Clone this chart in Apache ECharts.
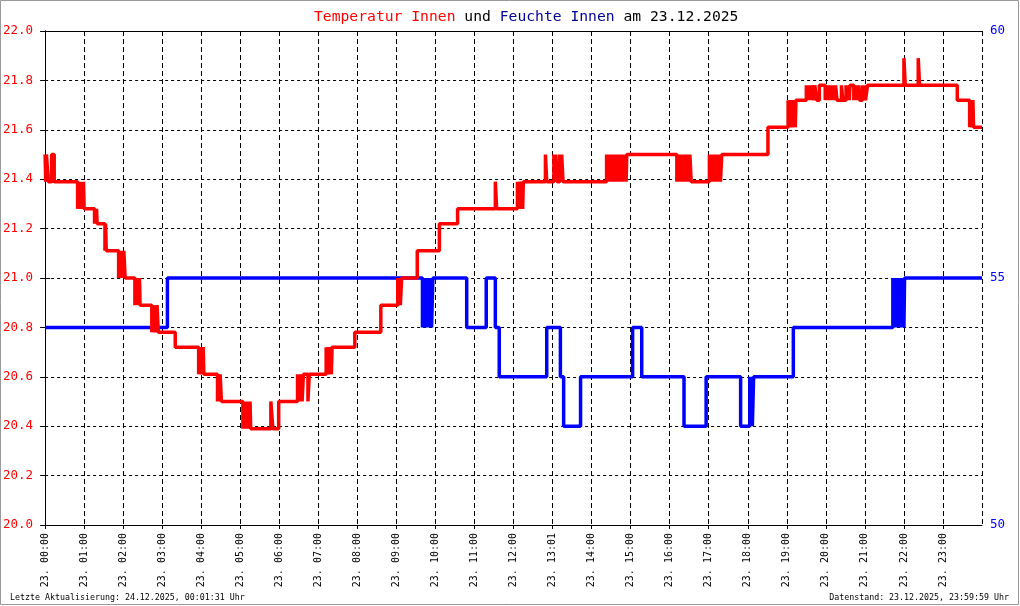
<!DOCTYPE html>
<html>
<head>
<meta charset="utf-8">
<script src="https://cdn.jsdelivr.net/npm/echarts@6/dist/echarts.min.js"></script>
<style>
html,body{margin:0;padding:0;background:#fff;}
#chart{width:1020px;height:606px;}
</style>
</head>
<body>
<div id="chart"></div>
<script>
// time in minutes since 23.12.2025 00:00, value holds until next point
var hourLabels = ['23. 00:00','23. 01:00','23. 02:00','23. 03:00','23. 04:00','23. 05:00','23. 06:00','23. 07:00',
  '23. 08:00','23. 09:00','23. 10:00','23. 11:00','23. 12:00','23. 13:01','23. 14:00','23. 15:00',
  '23. 16:00','23. 17:00','23. 18:00','23. 19:00','23. 20:00','23. 21:00','23. 22:00','23. 23:00'];

var temperature = [
  [0,21.5],[1,21.39],[2,21.5],[5,21.39],[10,21.5],[14,21.39],
  [50,21.28],[51,21.39],[52,21.28],[53,21.39],[54,21.28],[55,21.39],[56,21.28],[57,21.39],[58,21.28],[59,21.39],[60,21.28],
  [76,21.22],[77,21.28],[78,21.22],[79,21.28],[80,21.22],
  [92,21.11],[93,21.22],[94,21.11],
  [113,21.0],[114,21.11],[116,21.0],[117,21.11],[119,21.0],[121,21.11],[123,21.0],
  [138,20.89],[139,21.0],[140,20.89],[142,21.0],[143,20.89],[145,21.0],[146,20.89],
  [164,20.78],[165,20.89],[167,20.78],[168,20.89],[170,20.78],[172,20.89],[174,20.78],
  [200,20.72],
  [236,20.61],[237,20.72],[239,20.61],[240,20.72],[242,20.61],[243,20.72],[244,20.61],
  [265,20.5],[266,20.61],[268,20.5],[269,20.61],[271,20.5],
  [304,20.39],[305,20.5],[307,20.39],[308,20.5],[310,20.39],[312,20.5],[313,20.39],[315,20.5],[316,20.39],
  [347,20.5],[350,20.39],[359,20.5],
  [388,20.61],[389,20.5],[391,20.61],[392,20.5],[394,20.61],[395,20.5],[397,20.61],
  [404,20.5],[406,20.61],
  [432,20.72],[433,20.61],[435,20.72],[436,20.61],[438,20.72],[440,20.61],[441,20.72],
  [476,20.78],
  [516,20.89],
  [542,21.0],[543,20.89],[545,21.0],[546,20.89],[548,21.0],
  [572,21.11],
  [606,21.22],
  [634,21.28],
  [692,21.39],[694,21.28],
  [726,21.39],[727,21.28],[729,21.39],[730,21.28],[732,21.39],[734,21.28],[735,21.39],
  [769,21.5],[771,21.39],[782,21.5],[784,21.39],[785,21.5],[787,21.39],[791,21.5],[793,21.39],[794,21.5],[796,21.39],
  [863,21.5],[864,21.39],[866,21.5],[867,21.39],[869,21.5],[871,21.39],[872,21.5],[874,21.39],[876,21.5],[877,21.39],
  [879,21.5],[880,21.39],[882,21.5],[884,21.39],[885,21.5],[887,21.39],[888,21.5],[890,21.39],[891,21.5],[893,21.39],[894,21.5],
  [971,21.39],[972,21.5],[974,21.39],[975,21.5],[977,21.39],[978,21.5],[980,21.39],[982,21.5],[983,21.39],[985,21.5],
  [986,21.39],[988,21.5],[990,21.39],[991,21.5],[993,21.39],
  [1021,21.5],[1022,21.39],[1024,21.5],[1025,21.39],[1027,21.5],[1029,21.39],[1030,21.5],[1032,21.39],[1034,21.5],
  [1035,21.39],[1037,21.5],[1038,21.39],[1040,21.5],
  [1111,21.61],
  [1142,21.72],[1143,21.61],[1145,21.72],[1146,21.61],[1148,21.72],[1150,21.61],[1151,21.72],[1153,21.61],[1154,21.72],
  [1170,21.78],[1171,21.72],[1172,21.78],[1174,21.72],[1175,21.78],[1177,21.72],[1179,21.78],
  [1182,21.72],[1183,21.78],
  [1186,21.72],[1190,21.78],
  [1199,21.72],[1200,21.78],[1202,21.72],[1203,21.78],[1205,21.72],[1206,21.78],[1208,21.72],[1209,21.78],[1211,21.72],
  [1212,21.78],[1214,21.72],[1215,21.78],[1217,21.72],
  [1224,21.78],[1226,21.72],
  [1231,21.78],[1233,21.72],[1234,21.78],[1236,21.72],[1237,21.78],
  [1243,21.72],[1244,21.78],[1246,21.72],[1247,21.78],[1249,21.72],[1250,21.78],[1252,21.72],
  [1256,21.78],[1257,21.72],[1259,21.78],[1261,21.72],[1264,21.78],
  [1320,21.89],[1322,21.78],[1342,21.89],[1344,21.78],
  [1402,21.72],
  [1421,21.61],[1422,21.72],[1424,21.61],[1426,21.72],[1427,21.61],
  [1440,21.61]
];

var humidity = [
  [0,54],[188,55],
  [580,54],[581,55],[582,54],[584,55],[585,54],[587,55],[588,54],[590,55],[591,54],[593,55],[594,54],[596,55],
  [648,54],[678,55],[692,54],[698,53],
  [771,54],[792,53],[797,52],[823,53],
  [903,54],[917,53],
  [982,52],[1016,53],
  [1069,52],[1083,53],[1084,52],[1086,53],[1087,52],[1089,53],
  [1150,54],
  [1303,55],[1304,54],[1306,55],[1307,54],[1309,55],[1310,54],[1312,55],[1314,54],[1315,55],[1317,54],[1318,55],[1320,54],[1321,55],
  [1440,55]
];

var mono = '"DejaVu Sans Mono", "Liberation Mono", monospace';
var chart = echarts.init(document.getElementById('chart'), null, {renderer:'canvas'});
chart.setOption({
  animation:false,
  backgroundColor:'#ffffff',
  title:{
    left:309, top:5,
    text:'{r|Temperatur Innen} {k|und} {b|Feuchte Innen} {k|am 23.12.2025}',
    textStyle:{
      fontFamily:mono, fontSize:14.7, fontWeight:'normal', color:'#000',
      rich:{
        r:{color:'#ff0000', fontFamily:mono, fontSize:14.7},
        b:{color:'#000099', fontFamily:mono, fontSize:14.7},
        k:{color:'#000000', fontFamily:mono, fontSize:14.7}
      }
    }
  },
  grid:{left:43, right:38, top:31, bottom:81, containLabel:false},
  xAxis:[{
    type:'value', min:0, max:1440, interval:60,
    axisLine:{show:true, onZero:false, lineStyle:{color:'#000', width:1}},
    axisTick:{show:true, length:4, lineStyle:{color:'#000'}},
    axisLabel:{
      rotate:90, margin:8, color:'#000', fontFamily:mono, fontSize:10,
      showMaxLabel:false,
      formatter:function(v){ var i = Math.round(v/60); return hourLabels[i] || ''; }
    },
    splitLine:{show:true, lineStyle:{color:'#000', width:1, type:[5,3]}}
  },{
    type:'value', min:0, max:1440, position:'top',
    axisLine:{show:true, lineStyle:{color:'#000', width:1}},
    axisTick:{show:false}, axisLabel:{show:false}, splitLine:{show:false}
  }],
  yAxis:[{
    type:'value', min:20, max:22, interval:0.2, position:'left',
    axisLine:{show:true, lineStyle:{color:'#000', width:1}},
    axisTick:{show:true, length:5, lineStyle:{color:'#000'}},
    axisLabel:{margin:12, color:'#ff0000', fontFamily:mono, fontSize:12.5,
      formatter:function(v){return v.toFixed(1);}},
    splitLine:{show:true, lineStyle:{color:'#000', width:1, type:[3,3]}}
  },{
    type:'value', min:50, max:60, interval:5, position:'right',
    axisLine:{show:true, lineStyle:{color:'#000', width:1}},
    axisTick:{show:true, length:5, lineStyle:{color:'#000'}},
    axisLabel:{margin:8, color:'#0000ff', fontFamily:mono, fontSize:12.5},
    splitLine:{show:false}
  }],
  series:[{
    name:'Feuchte Innen', type:'line', step:'end', xAxisIndex:0, yAxisIndex:1,
    data:humidity, symbol:'none', lineStyle:{color:'#0000ff', width:3.5}, z:3
  },{
    name:'Temperatur Innen', type:'line', step:'end', xAxisIndex:0, yAxisIndex:0,
    data:temperature, symbol:'none', lineStyle:{color:'#ff0000', width:3.5}, z:4
  }],
  graphic:[
    {type:'rect', shape:{x:0.5, y:0.5, width:1018, height:604}, style:{fill:'none', stroke:'#999', lineWidth:1}, silent:true},
    {type:'text', left:10, top:594, style:{text:'Letzte Aktualisierung: 24.12.2025, 00:01:31 Uhr', fontFamily:mono, fontSize:8.3, fill:'#000'}},
    {type:'text', right:11, top:594, style:{text:'Datenstand: 23.12.2025, 23:59:59 Uhr', fontFamily:mono, fontSize:8.3, fill:'#000'}}
  ]
});
</script>
</body>
</html>
